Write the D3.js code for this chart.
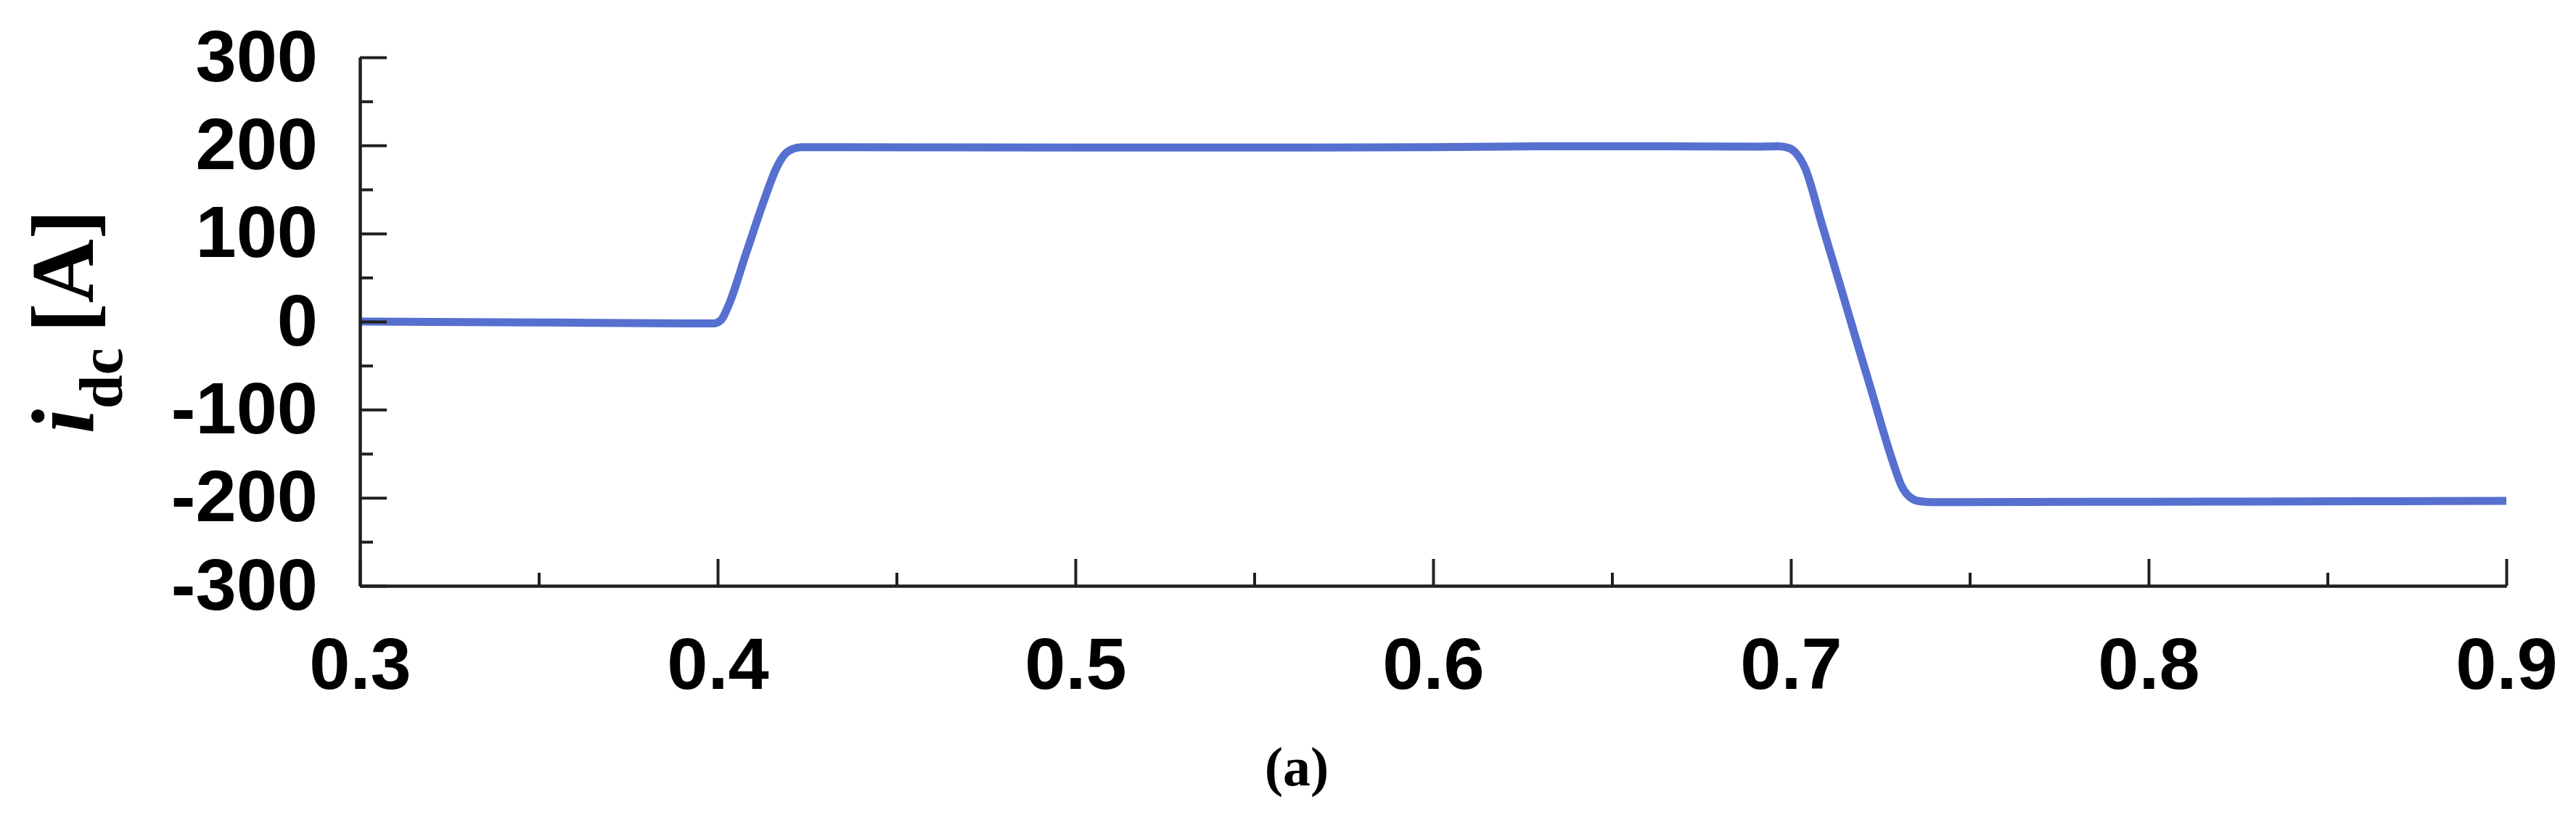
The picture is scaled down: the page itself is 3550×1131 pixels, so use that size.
<!DOCTYPE html>
<html>
<head>
<meta charset="utf-8">
<script src="https://cdn.jsdelivr.net/npm/d3@7"></script>
<style>
  body { margin: 0; background: #fff; }
  svg { display: block; }
</style>
</head>
<body>
<svg id="canvas"></svg>
<script>
// time [s] and dc current [A]
const timeValues = [
    0.300, 0.350, 0.390, 0.399, 0.4010, 0.4030, 0.4080, 0.4130, 0.4165, 0.4188,
    0.4210, 0.4235, 0.430, 0.500, 0.550, 0.600, 0.630, 0.660, 0.690, 0.6965,
    0.6995, 0.7015, 0.7040, 0.7085, 0.7132, 0.7180, 0.7227, 0.7280, 0.7310, 0.7335,
    0.7360, 0.7400, 0.800, 0.860, 0.900
];
const currentValues = [
    0, -1, -2, -2, 2, 18, 78, 138, 175, 190,
    196, 198, 198, 197.5, 197.5, 198, 199, 199, 198.6, 199,
    197, 191, 174, 113, 49, -17, -81, -153, -187, -200,
    -204, -205, -204.5, -204, -203.5
];

const xTicks = [0.3, 0.4, 0.5, 0.6, 0.7, 0.8, 0.9];
const xTickLabels = ['0.3', '0.4', '0.5', '0.6', '0.7', '0.8', '0.9'];
const xMinorTicks = [0.35, 0.45, 0.55, 0.65, 0.75, 0.85];

const yTicks = [-300, -200, -100, 0, 100, 200, 300];
const yTickLabels = ['-300', '-200', '-100', '0', '100', '200', '300'];
const yMinorTicks = [-250, -150, -50, 50, 150, 250];

const caption = '(a)';

let width = 3550;
let height = 1131;

let plotLeft = 496;
let plotRight = 3454;
let plotTop = 79;
let plotBottom = 807;

let xScale;
let yScale;

let axisColor = '#231f20';
let lineColor = '#5670d0';

let canvas = d3.select('#canvas');
canvas.attr('width', width);
canvas.attr('height', height);

function generateScales () {
    xScale = d3.scaleLinear()
                .domain([0.3, 0.9])
                .range([plotLeft, plotRight]);

    yScale = d3.scaleLinear()
                .domain([-300, 300])
                .range([plotBottom, plotTop]);
}

function styleAxis (g) {
    g.select('.domain')
        .attr('stroke', axisColor)
        .attr('stroke-width', 4);
    g.selectAll('.tick line')
        .attr('stroke', axisColor)
        .attr('stroke-width', 4);
    g.selectAll('.tick text')
        .attr('fill', '#000')
        .style('font-family', '"Liberation Sans", Arial, sans-serif')
        .style('font-weight', 'bold')
        .style('font-size', '101px');
}

function drawAxis () {
    // ticks point into the plot area
    let xMinor = d3.axisBottom(xScale)
                    .tickValues(xMinorTicks)
                    .tickFormat('')
                    .tickSizeInner(-18)
                    .tickSizeOuter(0);

    canvas.append('g')
            .attr('transform', 'translate(0, ' + plotBottom + ')')
            .call(xMinor)
            .call(styleAxis);

    let xAxis = d3.axisBottom(xScale)
                    .tickValues(xTicks)
                    .tickFormat((d, i) => xTickLabels[i])
                    .tickSizeInner(-37)
                    .tickSizeOuter(0)
                    .tickPadding(70);

    canvas.append('g')
            .attr('id', 'x-axis')
            .attr('transform', 'translate(0, ' + plotBottom + ')')
            .call(xAxis)
            .call(styleAxis);

    let yMinor = d3.axisLeft(yScale)
                    .tickValues(yMinorTicks)
                    .tickFormat('')
                    .tickSizeInner(-18)
                    .tickSizeOuter(0);

    canvas.append('g')
            .attr('transform', 'translate(' + plotLeft + ', 0)')
            .call(yMinor)
            .call(styleAxis);

    let yAxis = d3.axisLeft(yScale)
                    .tickValues(yTicks)
                    .tickFormat((d, i) => yTickLabels[i])
                    .tickSizeInner(-37)
                    .tickSizeOuter(0)
                    .tickPadding(58);

    canvas.append('g')
            .attr('id', 'y-axis')
            .attr('transform', 'translate(' + plotLeft + ', 0)')
            .call(yAxis)
            .call(styleAxis);
}

function drawLine () {
    let points = timeValues.map((t, i) => [t, currentValues[i]]);

    let line = d3.line()
                .x((d) => xScale(d[0]))
                .y((d) => yScale(d[1]))
                .curve(d3.curveMonotoneX);

    canvas.append('path')
            .datum(points)
            .attr('d', line)
            .attr('fill', 'none')
            .attr('stroke', lineColor)
            .attr('stroke-width', 11)
            .attr('stroke-linejoin', 'round');
}

function drawLabels () {
    // y title: i_dc [A], rotated
    let title = canvas.append('text')
                    .attr('transform', 'translate(128, ' + yScale(0) + ') rotate(-90)')
                    .attr('text-anchor', 'middle')
                    .style('font-family', '"Liberation Serif", "Times New Roman", serif')
                    .style('font-weight', 'bold')
                    .attr('fill', '#000');

    title.append('tspan')
            .style('font-style', 'italic')
            .style('font-size', '122px')
            .text('i');
    title.append('tspan')
            .style('font-size', '84px')
            .attr('dy', 40)
            .text('dc ');
    title.append('tspan')
            .style('font-size', '122px')
            .attr('dy', -40)
            .text('[A]');

    canvas.append('text')
            .attr('x', 1787)
            .attr('y', 1082)
            .attr('text-anchor', 'middle')
            .style('font-family', '"Liberation Serif", "Times New Roman", serif')
            .style('font-weight', 'bold')
            .style('font-size', '76px')
            .attr('fill', '#000')
            .text(caption);
}

generateScales();
drawLine();
drawAxis();
drawLabels();
</script>
</body>
</html>
